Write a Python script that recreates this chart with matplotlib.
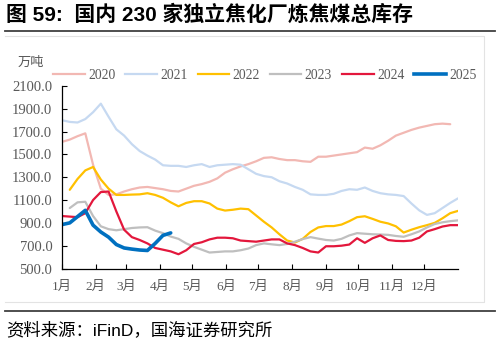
import matplotlib
matplotlib.use("Agg")
import matplotlib.pyplot as plt
import numpy as np
from matplotlib.lines import Line2D

nan = np.nan

# weekly coking-coal inventory, 10k tonnes
years = ["2020", "2021", "2022", "2023", "2024", "2025"]
colors = ["#F2B8B3", "#C6D9F1", "#FFC000", "#BFBFBF", "#E3173C", "#0070C0"]
widths = [1.6, 1.6, 1.6, 1.6, 1.6, 2.6]

v2020 = [1610, 1630, 1660, 1685, 1410, 1200, 1145, 1150, 1175, 1195,
         1210, 1215, 1205, 1195, 1180, 1175, 1200, 1225, 1240, 1260,
         1290, 1340, 1370, 1395, 1415, 1440, 1470, 1475, 1460, 1450,
         1450, 1440, 1435, 1480, 1480, 1490, 1500, 1510, 1520, 1560,
         1550, 1580, 1620, 1665, 1690, 1715, 1735, 1750, 1765, 1770,
         1765]
v2021 = [1800, 1785, 1780, 1810, 1870, 1945, 1830, 1720, 1665, 1590,
         1530, 1490, 1455, 1405, 1400, 1400, 1390, 1405, 1415, 1390,
         1405, 1410, 1415, 1410, 1370, 1330, 1310, 1300, 1265, 1245,
         1215, 1190, 1150, 1145, 1145, 1155, 1180, 1195, 1190, 1210,
         1180, 1160, 1150, 1145, 1135, 1070, 1010, 970, 985, 1030,
         1075, 1115]
v2022 = [nan, 1190, 1285, 1360, 1390, 1280, 1200, 1145, 1145, 1148,
         1150, 1160, 1145, 1120, 1080, 1045, 1075, 1090, 1090, 1070,
         1025, 1008, 1015, 1025, 1020, 965, 910, 860, 800, 745,
         728, 760, 820, 860, 872, 872, 885, 915, 950, 958,
         935, 910, 895, 870, 815, 840, 862, 880, 900, 940,
         985, 1005]
v2023 = [nan, 1030, 1080, 1085, 960, 870, 845, 835, 845, 855,
         860, 862, 832, 810, 780, 760, 720, 690, 665, 640,
         645, 650, 650, 660, 675, 705, 720, 712, 705, 715,
         735, 758, 775, 762, 750, 745, 760, 790, 810, 805,
         800, 798, 795, 785, 778, 800, 825, 860, 890, 905,
         915, 922]
v2024 = [960, 955, 950, 985, 1100, 1170, 1175, 1000, 840, 775,
         750, 720, 680, 665, 650, 625, 660, 715, 730, 755,
         770, 770, 765, 745, 740, 735, 745, 755, 755, 720,
         705, 680, 650, 640, 695, 695, 700, 710, 765, 725,
         765, 790, 750, 742, 740, 745, 770, 825, 845, 868,
         880, 880]
v2025 = [885, 900, 955, 1010, 880, 820, 775, 710, 680, 670,
         662, 658, 720, 790, 812]
series = [v2020, v2021, v2022, v2023, v2024, v2025]

month_labels = [f"{m}月" for m in range(1, 13)]
month_days = [0, 31, 59, 90, 120, 151, 181, 212, 243, 273, 304, 334]
yticks = [500, 700, 900, 1100, 1300, 1500, 1700, 1900, 2100]

serif_cjk = ["Liberation Serif", "Noto Sans CJK SC"]
sans_cjk = ["Liberation Sans", "Noto Sans CJK SC"]
grey = "#595959"

fig = plt.figure(figsize=(4.98, 3.43), dpi=100)
ax = fig.add_axes([0.1245, 0.2172, 0.7952, 0.5321])

for name, vals, c, lw in zip(years, series, colors, widths):
    ax.plot(np.arange(len(vals)), vals, color=c, lw=lw, label=name,
            solid_joinstyle="round", solid_capstyle="round")

ax.set_xlim(0, 51)
ax.set_ylim(500, 2100)
ax.set_yticks(yticks)
ax.set_yticklabels([f"{v:.1f}" for v in yticks], family=serif_cjk,
                   fontsize=10.5, color=grey)
ax.set_xticks(np.array(month_days) * 51 / 365)
ax.set_xticklabels(month_labels, family=serif_cjk, fontsize=9.5, color=grey)
ax.tick_params(axis="both", direction="in", length=3.5, width=0.8, color="black")
ax.tick_params(axis="y", pad=7)
ax.tick_params(axis="x", pad=9)
for s in ["top", "right"]:
    ax.spines[s].set_visible(False)
for s in ["left", "bottom"]:
    ax.spines[s].set_linewidth(0.9)
    ax.spines[s].set_color("black")

handles = [Line2D([], [], color=c, lw=lw) for c, lw in zip(colors, widths)]
fig.legend(handles, years, loc="center", bbox_to_anchor=(0.532, 0.781), ncol=6,
           frameon=False, prop={"family": serif_cjk, "size": 9.8},
           labelcolor=grey, handlelength=2.3, handletextpad=0.25,
           columnspacing=0.75)

fig.text(0.036, 0.818, "万吨", family=serif_cjk, fontsize=9.5, color=grey,
         va="center", ha="left")

# header, rules and frame
fig.text(0.012, 0.958, "图 59:  国内 230 家独立焦化厂炼焦煤总库存",
         family=sans_cjk, fontweight="bold", fontsize=15,
         va="center", ha="left")
fig.add_artist(Line2D([0.01, 0.994], [0.909, 0.909], color="#404040", lw=1.3))
fig.add_artist(Line2D([0.01, 0.994], [0.093, 0.093], color="#404040", lw=1.3))
fig.add_artist(Line2D([0.01, 0.971, 0.971, 0.01], [0.895, 0.895, 0.12, 0.12],
                      color="#E3E3E3", lw=0.8))
fig.text(0.012, 0.038, "资料来源：iFinD，国海证券研究所",
         family=sans_cjk, fontsize=12.5, va="center", ha="left")

fig.savefig("out.png", dpi=100)
